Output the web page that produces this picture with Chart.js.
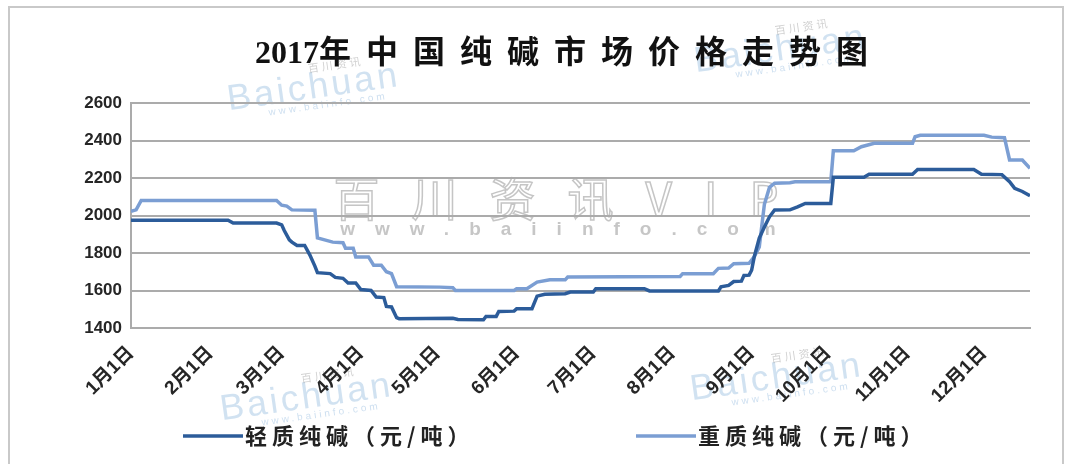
<!DOCTYPE html>
<html>
<head>
<meta charset="utf-8">
<script src="https://cdn.jsdelivr.net/npm/chart.js@4.4.0/dist/chart.umd.min.js"></script>
<style>
  html, body { margin: 0; padding: 0; background: #fff; }
  #wrap { position: relative; width: 1073px; height: 464px; overflow: hidden; }
  #frame { position: absolute; left: 8px; top: 6px; width: 1052px; height: 480px; border: 2px solid #c9c9c9; }
  #title {
    position: absolute; left: 255px; top: 26px; white-space: nowrap;
    font: bold 32px "Liberation Serif", "Noto Sans CJK SC", serif;
    color: #111;
  }
  #title .cjk { letter-spacing: 15px; }
  canvas { position: absolute; left: 0; top: 0; }
</style>
</head>
<body>
<div id="wrap">
  <div id="frame"></div>
  <canvas id="grafico" width="1073" height="464"></canvas>
  <div id="title">2017<span class="cjk">年中国纯碱市场价格走势图</span></div>
</div>
<script>
// Dados ======================================================================

const tickDates = ["1/1", "2/1", "3/1", "4/1", "5/1", "6/1", "7/1", "8/1", "9/1", "10/1", "11/1", "12/1"];
const tickLabels = ["1月1日", "2月1日", "3月1日", "4月1日", "5月1日", "6月1日", "7月1日", "8月1日", "9月1日", "10月1日", "11月1日", "12月1日"];
const yTicks = [1400, 1600, 1800, 2000, 2200, 2400, 2600];

// 轻质纯碱
const lightSodaDates = ["1/1", "2/8", "2/10", "2/27", "3/1", "3/2", "3/4", "3/5", "3/7", "3/10", "3/12", "3/14", "3/15", "3/20", "3/22", "3/25", "3/27", "3/30", "4/1", "4/5", "4/7", "4/10", "4/11", "4/13", "4/15", "4/16", "5/7", "5/9", "5/19", "5/20", "5/24", "5/25", "5/31", "6/1", "6/7", "6/9", "6/12", "6/20", "6/22", "7/1", "7/2", "7/21", "7/23", "8/19", "8/20", "8/23", "8/25", "8/28", "8/29", "8/31", "9/1", "9/2", "9/4", "9/6", "9/8", "9/10", "9/16", "9/19", "9/22", "10/2", "10/3", "10/15", "10/17", "11/3", "11/5", "11/27", "11/30", "12/8", "12/11", "12/13", "12/16", "12/19"];
const lightSodaPrices = [1975, 1975, 1960, 1960, 1950, 1920, 1870, 1858, 1840, 1840, 1790, 1730, 1695, 1690, 1670, 1665, 1640, 1640, 1605, 1600, 1565, 1562, 1515, 1512, 1455, 1450, 1452, 1445, 1444, 1462, 1462, 1488, 1490, 1503, 1503, 1570, 1580, 1583, 1592, 1592, 1610, 1610, 1598, 1598, 1620, 1627, 1648, 1650, 1680, 1682, 1708, 1778, 1880, 1939, 1993, 2029, 2030, 2046, 2064, 2064, 2204, 2204, 2220, 2220, 2245, 2245, 2220, 2218, 2180, 2145, 2128, 2105];

// 重质纯碱
const denseSodaDates = ["1/1", "1/3", "1/5", "2/27", "3/1", "3/3", "3/5", "3/14", "3/15", "3/21", "3/25", "3/26", "3/29", "3/30", "4/4", "4/6", "4/9", "4/11", "4/13", "4/15", "5/2", "5/7", "5/8", "5/31", "6/1", "6/5", "6/9", "6/14", "6/20", "6/21", "8/4", "8/5", "8/17", "8/19", "8/23", "8/25", "8/31", "9/2", "9/4", "9/6", "9/8", "9/10", "9/16", "9/18", "10/2", "10/3", "10/11", "10/14", "10/19", "11/3", "11/4", "11/6", "12/1", "12/4", "12/9", "12/11", "12/16", "12/19"];
const denseSodaPrices = [2022, 2030, 2080, 2080, 2055, 2050, 2030, 2028, 1880, 1858, 1855, 1825, 1825, 1779, 1779, 1735, 1735, 1700, 1690, 1620, 1618, 1615, 1600, 1600, 1610, 1610, 1645, 1657, 1657, 1672, 1675, 1690, 1690, 1718, 1720, 1743, 1745, 1780, 1832, 2060, 2150, 2172, 2175, 2180, 2180, 2345, 2345, 2367, 2385, 2385, 2420, 2428, 2428, 2418, 2415, 2296, 2296, 2252];

// Auxiliares =================================================================

function dayOfYear(s) {
  const [m, d] = s.split("/").map(Number);
  return (Date.UTC(2017, m - 1, d) - Date.UTC(2017, 0, 1)) / 86400000;
}

function toPoints(dates, prices) {
  return dates.map((s, i) => ({ x: dayOfYear(s), y: prices[i] }));
}

const tickDays = tickDates.map(dayOfYear);
const lastDay = Math.max(dayOfYear(lightSodaDates[lightSodaDates.length - 1]), dayOfYear(denseSodaDates[denseSodaDates.length - 1]));

const gridColor = "#ababab";
const yFont = { family: '"Liberation Sans", "Noto Sans CJK SC", sans-serif', size: 17, weight: "bold" };
const xFont = { family: '"Liberation Sans", "Noto Sans CJK SC", sans-serif', size: 19, weight: "bold" };

// Marca d'água ===============================================================

const watermark = {
  id: "watermark",
  beforeDraw(chart) {
    const ctx = chart.ctx;
    ctx.save();
    ctx.textAlign = "center";
    ctx.strokeStyle = "rgba(150,150,150,0.55)";
    ctx.lineWidth = 1.5;
    ctx.font = '46px "Noto Sans CJK SC"';
    ctx.letterSpacing = "32px";
    ctx.strokeText("百川资讯VIP", 572, 216);
    ctx.fillStyle = "rgba(160,160,160,0.6)";
    ctx.font = 'bold 19px "Liberation Sans"';
    ctx.letterSpacing = "20px";
    ctx.fillText("www.baiinfo.com", 568, 235);

    const logos = [[315, 98], [782, 60], [308, 408], [778, 388]];
    logos.forEach(([x, y]) => {
      ctx.save();
      ctx.translate(x, y);
      ctx.rotate(-0.14);
      ctx.letterSpacing = "3px";
      ctx.fillStyle = "rgba(90,150,205,0.28)";
      ctx.font = '36px "Liberation Sans"';
      ctx.fillText("Baichuan", 0, 0);
      ctx.font = '11px "Noto Sans CJK SC"';
      ctx.fillStyle = "rgba(120,120,120,0.35)";
      ctx.fillText("百川资讯", 25, -26);
      ctx.font = '10px "Liberation Sans"';
      ctx.fillStyle = "rgba(90,150,205,0.3)";
      ctx.fillText("www.baiinfo.com", 12, 11);
      ctx.restore();
    });
    ctx.restore();
  },
};

// Legenda ====================================================================

const bottomLegend = {
  id: "bottomLegend",
  afterDraw(chart) {
    const ctx = chart.ctx;
    const starts = [183, 636];
    const y = 436;
    ctx.save();
    chart.data.datasets.forEach((ds, i) => {
      const x0 = starts[i];
      ctx.strokeStyle = ds.borderColor;
      ctx.lineWidth = 3.5;
      ctx.beginPath();
      ctx.moveTo(x0, y);
      ctx.lineTo(x0 + 60, y);
      ctx.stroke();
      ctx.fillStyle = "#222";
      ctx.font = 'bold 22px "Noto Sans CJK SC"';
      ctx.letterSpacing = "5px";
      ctx.textBaseline = "middle";
      ctx.fillText(ds.label, x0 + 62, y);
    });
    ctx.restore();
  },
};

// Gráfico ====================================================================

const config = {
  type: "line",
  data: {
    datasets: [
      {
        label: "轻质纯碱（元/吨）",
        data: toPoints(lightSodaDates, lightSodaPrices),
        borderColor: "#2c5c9a",
        backgroundColor: "#2c5c9a",
        borderWidth: 3.5,
        pointRadius: 0,
        tension: 0,
      },
      {
        label: "重质纯碱（元/吨）",
        data: toPoints(denseSodaDates, denseSodaPrices),
        borderColor: "#7b9ed3",
        backgroundColor: "#7b9ed3",
        borderWidth: 3.5,
        pointRadius: 0,
        tension: 0,
      },
    ],
  },
  options: {
    responsive: false,
    animation: false,
    layout: { padding: { left: 0, right: 43, top: 103, bottom: 62 } },
    plugins: {
      legend: { display: false },
      title: { display: false },
      tooltip: { enabled: false },
    },
    scales: {
      x: {
        type: "linear",
        min: 0,
        max: lastDay,
        afterBuildTicks: (scale) => {
          scale.ticks = tickDays.map((v) => ({ value: v }));
        },
        afterFit: (scale) => {
          scale.height = 74;
        },
        grid: { display: false, drawTicks: false },
        border: { display: true, color: gridColor, width: 2 },
        ticks: {
          autoSkip: false,
          minRotation: 45,
          maxRotation: 45,
          padding: 14,
          color: "#262626",
          font: xFont,
          callback: (v) => tickLabels[tickDays.indexOf(v)],
        },
      },
      y: {
        min: yTicks[0],
        max: yTicks[yTicks.length - 1],
        afterBuildTicks: (scale) => {
          scale.ticks = yTicks.map((v) => ({ value: v }));
        },
        afterFit: (scale) => {
          scale.width = 131;
        },
        grid: { color: gridColor, lineWidth: 2, drawTicks: false },
        border: { display: true, color: gridColor, width: 2 },
        ticks: { padding: 9, color: "#262626", font: yFont, callback: (v) => String(v) },
      },
    },
  },
  plugins: [watermark, bottomLegend],
};

const grafico = new Chart(document.getElementById("grafico"), config);
</script>
</body>
</html>
